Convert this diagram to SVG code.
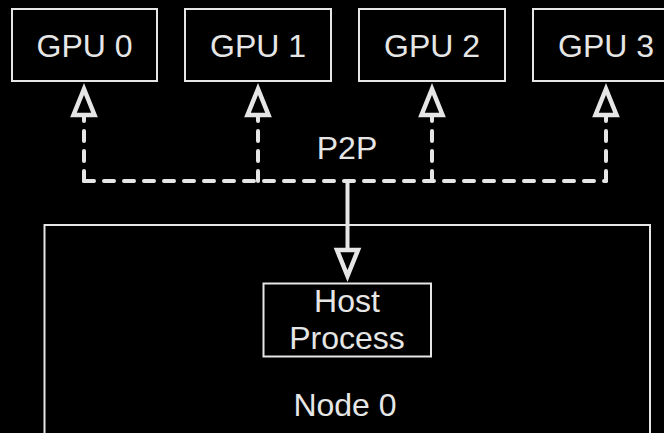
<svg xmlns="http://www.w3.org/2000/svg" width="664" height="433" viewBox="0 0 664 433">
  <style>
    .box { fill: #000; stroke: #e6e6e6; stroke-width: 2; }
    .lbl { fill: #e6e6e6; font-family: "Liberation Sans", Arial, Helvetica, sans-serif; font-size: 32px; text-anchor: middle; }
    .dash { fill: none; stroke: #e6e6e6; stroke-width: 4; stroke-dasharray: 10 10; stroke-linecap: round; }
    .solid { fill: none; stroke: #e6e6e6; stroke-width: 4; }
  </style>
  <defs>
    <marker id="open" markerUnits="userSpaceOnUse" markerWidth="40" markerHeight="40" refX="0" refY="0" orient="auto" overflow="visible">
      <path d="M0,0 L-26,-10.5 L-26,10.5 Z" fill="#000" stroke="#e6e6e6" stroke-width="4.5" stroke-linejoin="miter"/>
    </marker>
  </defs>
  <rect width="664" height="433" fill="#000"/>

  <g id="node0">
    <rect class="box" x="44.5" y="225" width="605.5" height="230"/>
    <text class="lbl" x="345" y="416">Node 0</text>
  </g>

  <g id="gpu0">
    <rect class="box" x="12" y="9" width="145" height="72"/>
    <text class="lbl" x="84.5" y="57">GPU 0</text>
  </g>
  <g id="gpu1">
    <rect class="box" x="185" y="9" width="146" height="72"/>
    <text class="lbl" x="258" y="57">GPU 1</text>
  </g>
  <g id="gpu2">
    <rect class="box" x="359" y="9" width="146" height="72"/>
    <text class="lbl" x="432" y="57">GPU 2</text>
  </g>
  <g id="gpu3">
    <rect class="box" x="533" y="9" width="146" height="72"/>
    <text class="lbl" x="606" y="57">GPU 3</text>
  </g>

  <g id="connectors">
    <path class="dash" d="M84,181 H606"/>
    <path class="dash" d="M84,181 V89" marker-end="url(#open)"/>
    <path class="dash" d="M258,181 V89" marker-end="url(#open)"/>
    <path class="dash" d="M432,181 V89" marker-end="url(#open)"/>
    <path class="dash" d="M606,181 V89" marker-end="url(#open)"/>
    <path class="solid" d="M347.5,181 V276" marker-end="url(#open)"/>
    <text class="lbl" x="347" y="159">P2P</text>
  </g>

  <g id="host">
    <rect class="box" x="263.5" y="283.5" width="167.5" height="73"/>
    <text class="lbl" x="347" y="312">Host</text>
    <text class="lbl" x="347" y="349">Process</text>
  </g>
</svg>
